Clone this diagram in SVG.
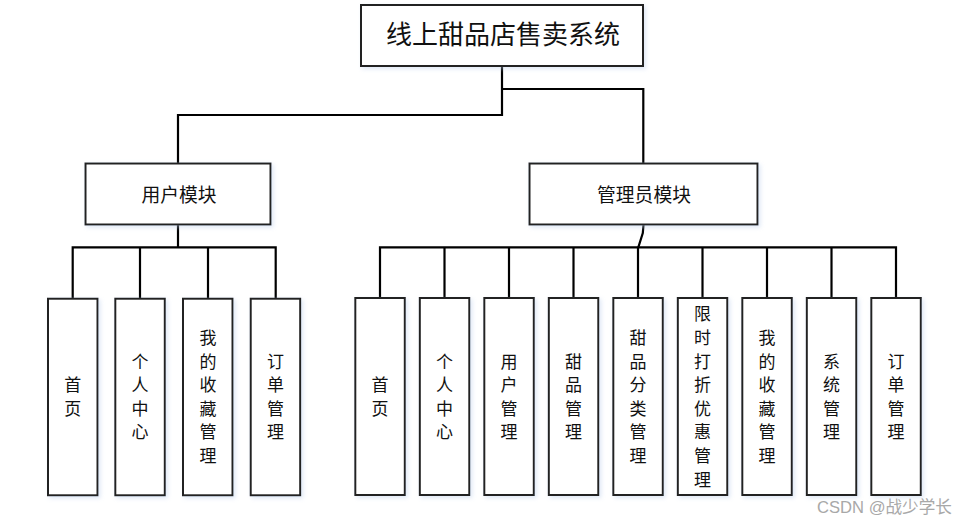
<svg xmlns="http://www.w3.org/2000/svg" width="968" height="525" viewBox="0 0 968 525">
<defs>
<filter id="sh" x="-20%" y="-20%" width="140%" height="140%">
<feDropShadow dx="2" dy="2" stdDeviation="2" flood-color="#b8cdea" flood-opacity="0.45"/>
</filter>
<style>
.box{fill:#ffffff;stroke:#222222;stroke-width:2;filter:url(#sh)}
.ln{fill:none;stroke:#000000;stroke-width:2.2}
text{font-family:"Noto Sans CJK SC","Noto Sans",sans-serif;fill:#111111}
.t0{font-size:26px;text-anchor:middle}
.t1{font-size:18.8px;text-anchor:middle}
.t2{font-size:17px;text-anchor:middle}
.wm{font-family:"Liberation Sans","Noto Sans CJK SC",sans-serif;font-size:16.6px;fill:#a8a8a8}
</style>
</defs>
<rect width="968" height="525" fill="#ffffff"/>
<g id="connectors">
<polyline class="ln" points="502,66 502,115 178,115 178,163"/>
<polyline class="ln" points="502,89 643.3,89 643.3,163"/>
<polyline class="ln" points="178,225 178,247.3"/>
<polyline class="ln" points="72.7,298.7 72.7,247.3 275.7,247.3 275.7,298.7"/>
<line class="ln" x1="140" y1="247.3" x2="140" y2="298.7"/>
<line class="ln" x1="208" y1="247.3" x2="208" y2="298.7"/>
<polyline class="ln" points="643.5,225 642.8,233 638.3,247.3"/>
<polyline class="ln" points="380,298 380,247.3 896,247.3 896,298"/>
<line class="ln" x1="444.5" y1="247.3" x2="444.5" y2="298"/>
<line class="ln" x1="509" y1="247.3" x2="509" y2="298"/>
<line class="ln" x1="573.5" y1="247.3" x2="573.5" y2="298"/>
<line class="ln" x1="638" y1="247.3" x2="638" y2="298"/>
<line class="ln" x1="702.5" y1="247.3" x2="702.5" y2="298"/>
<line class="ln" x1="767" y1="247.3" x2="767" y2="298"/>
<line class="ln" x1="831.5" y1="247.3" x2="831.5" y2="298"/>
</g>
<g id="root">
<rect class="box" x="361" y="5" width="282" height="61"/>
<text class="t0" x="503" y="44">线上甜品店售卖系统</text>
</g>
<g id="user">
<rect class="box" x="85.5" y="163.5" width="185" height="61"/>
<text class="t1" x="179" y="202">用户模块</text>
</g>
<g id="admin">
<rect class="box" x="529.5" y="163.5" width="228" height="61"/>
<text class="t1" x="644" y="202">管理员模块</text>
</g>
<g id="u1">
<rect class="box" x="48" y="298.7" width="49.5" height="196.6"/>
<text class="t2" x="72.7" y="391.2"><tspan x="72.7">首</tspan><tspan x="72.7" dy="23.6">页</tspan></text>
</g>
<g id="u2">
<rect class="box" x="115.3" y="298.7" width="49.5" height="196.6"/>
<text class="t2" y="367.6"><tspan x="140">个</tspan><tspan x="140" dy="23.6">人</tspan><tspan x="140" dy="23.6">中</tspan><tspan x="140" dy="23.6">心</tspan></text>
</g>
<g id="u3">
<rect class="box" x="183" y="298.7" width="49.5" height="196.6"/>
<text class="t2" y="344"><tspan x="208">我</tspan><tspan x="208" dy="23.6">的</tspan><tspan x="208" dy="23.6">收</tspan><tspan x="208" dy="23.6">藏</tspan><tspan x="208" dy="23.6">管</tspan><tspan x="208" dy="23.6">理</tspan></text>
</g>
<g id="u4">
<rect class="box" x="250.7" y="298.7" width="49.5" height="196.6"/>
<text class="t2" y="367.6"><tspan x="275.5">订</tspan><tspan x="275.5" dy="23.6">单</tspan><tspan x="275.5" dy="23.6">管</tspan><tspan x="275.5" dy="23.6">理</tspan></text>
</g>
<g id="a1">
<rect class="box" x="355.3" y="298" width="49.5" height="197"/>
<text class="t2" y="391.2"><tspan x="380">首</tspan><tspan x="380" dy="23.6">页</tspan></text>
</g>
<g id="a2">
<rect class="box" x="419.8" y="298" width="49.5" height="197"/>
<text class="t2" y="367.6"><tspan x="444.5">个</tspan><tspan x="444.5" dy="23.6">人</tspan><tspan x="444.5" dy="23.6">中</tspan><tspan x="444.5" dy="23.6">心</tspan></text>
</g>
<g id="a3">
<rect class="box" x="484.3" y="298" width="49.5" height="197"/>
<text class="t2" y="367.6"><tspan x="509">用</tspan><tspan x="509" dy="23.6">户</tspan><tspan x="509" dy="23.6">管</tspan><tspan x="509" dy="23.6">理</tspan></text>
</g>
<g id="a4">
<rect class="box" x="548.8" y="298" width="49.5" height="197"/>
<text class="t2" y="367.6"><tspan x="573.5">甜</tspan><tspan x="573.5" dy="23.6">品</tspan><tspan x="573.5" dy="23.6">管</tspan><tspan x="573.5" dy="23.6">理</tspan></text>
</g>
<g id="a5">
<rect class="box" x="613.3" y="298" width="49.5" height="197"/>
<text class="t2" y="344"><tspan x="638">甜</tspan><tspan x="638" dy="23.6">品</tspan><tspan x="638" dy="23.6">分</tspan><tspan x="638" dy="23.6">类</tspan><tspan x="638" dy="23.6">管</tspan><tspan x="638" dy="23.6">理</tspan></text>
</g>
<g id="a6">
<rect class="box" x="677.8" y="298" width="49.5" height="197"/>
<text class="t2" y="320.4"><tspan x="702.5">限</tspan><tspan x="702.5" dy="23.6">时</tspan><tspan x="702.5" dy="23.6">打</tspan><tspan x="702.5" dy="23.6">折</tspan><tspan x="702.5" dy="23.6">优</tspan><tspan x="702.5" dy="23.6">惠</tspan><tspan x="702.5" dy="23.6">管</tspan><tspan x="702.5" dy="23.6">理</tspan></text>
</g>
<g id="a7">
<rect class="box" x="742.3" y="298" width="49.5" height="197"/>
<text class="t2" y="344"><tspan x="767">我</tspan><tspan x="767" dy="23.6">的</tspan><tspan x="767" dy="23.6">收</tspan><tspan x="767" dy="23.6">藏</tspan><tspan x="767" dy="23.6">管</tspan><tspan x="767" dy="23.6">理</tspan></text>
</g>
<g id="a8">
<rect class="box" x="806.8" y="298" width="49.5" height="197"/>
<text class="t2" y="367.6"><tspan x="831.5">系</tspan><tspan x="831.5" dy="23.6">统</tspan><tspan x="831.5" dy="23.6">管</tspan><tspan x="831.5" dy="23.6">理</tspan></text>
</g>
<g id="a9">
<rect class="box" x="871.3" y="298" width="49.5" height="197"/>
<text class="t2" y="367.6"><tspan x="896">订</tspan><tspan x="896" dy="23.6">单</tspan><tspan x="896" dy="23.6">管</tspan><tspan x="896" dy="23.6">理</tspan></text>
</g>
<text class="wm" x="817" y="513">CSDN @战少学长</text>
</svg>
